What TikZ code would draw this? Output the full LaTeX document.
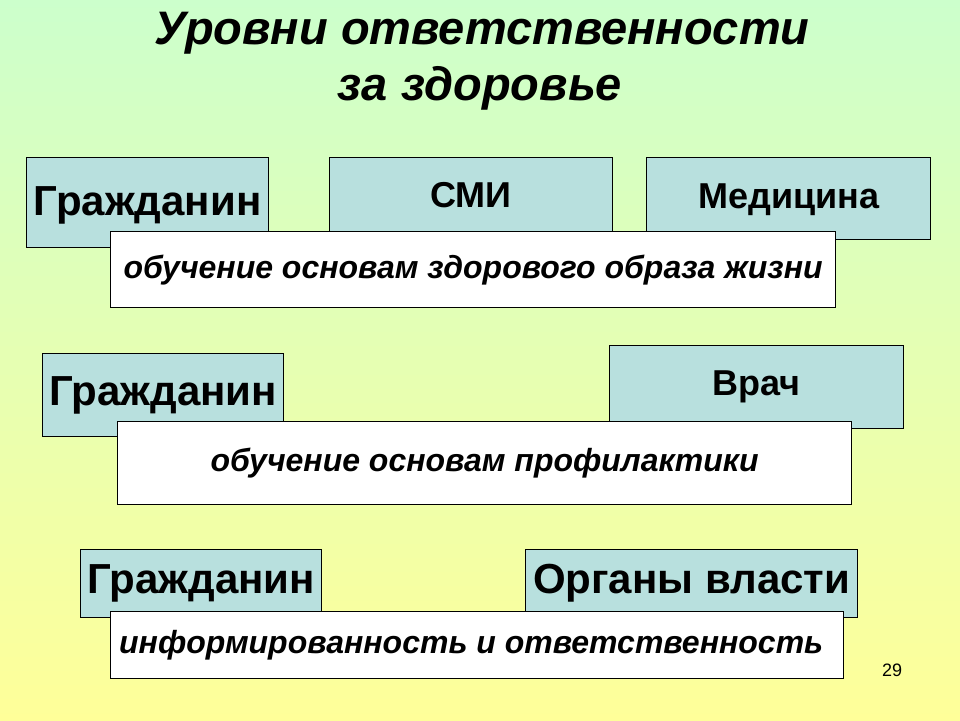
\documentclass[tikz,border=0pt]{standalone}
\usepackage{fontspec}
\setmainfont{Liberation Sans}
\definecolor{boxblue}{RGB}{184,224,222}
\definecolor{topgreen}{RGB}{204,255,204}
\definecolor{botyellow}{RGB}{255,255,153}
\newcommand{\fs}[1]{\fontsize{#1}{#1}\selectfont}
\begin{document}
\begin{tikzpicture}[x=1pt,y=-1pt,
  bluebox/.style={draw=black, line width=1.3pt, fill=boxblue, anchor=north west,
    inner sep=0pt, text=black},
  whitebox/.style={draw=black, line width=1.3pt, fill=white, anchor=north west,
    inner sep=0pt, text=black},
  bigtxt/.style={font=\bfseries\fs{42}},
  midtxt/.style={font=\bfseries\fs{36}},
  ittxt/.style={font=\bfseries\itshape\fs{32}},
  titletxt/.style={font=\bfseries\itshape\fs{47}, text=black}]
\useasboundingbox (0,0) rectangle (960,720);
\shade[top color=topgreen, bottom color=botyellow] (0,0) rectangle (960,720);

\node[titletxt] (t1) at (482,33) {Уровни ответственности};
\node[titletxt] (t2) at (480,88) {за здоровье};

% row 1
\node[bluebox, bigtxt, minimum width=242, minimum height=90, text depth=3pt] (g1) at (26,157) {Гражданин};
\node[bluebox, midtxt, minimum width=283, minimum height=74] (smi) at (329,157) {СМИ};
\node[bluebox, midtxt, minimum width=284, minimum height=82, text depth=6pt] (med) at (646,157) {Медицина};
\node[whitebox, ittxt, minimum width=725, minimum height=76] (w1) at (110,231) {обучение основам здорового образа жизни};

% row 2
\node[bluebox, bigtxt, minimum width=241, minimum height=83] (g2) at (42,353) {Гражданин};
\node[bluebox, midtxt, minimum width=294, minimum height=83] (vr) at (609,345) {Врач};
\node[whitebox, ittxt, minimum width=734, minimum height=83] (w2) at (117,421) {обучение основам профилактики};

% row 3
\node[bluebox, bigtxt, minimum width=241, minimum height=68] (g3) at (80,549) {Гражданин};
\node[bluebox, bigtxt, minimum width=332, minimum height=68] (org) at (525,549) {Органы власти};
\node[whitebox, ittxt, minimum width=733, minimum height=67] (w3) at (110,611) {\hspace*{-12pt}информированность и ответственность};

\node[font=\fs{18}] (num) at (892,670) {29};
\end{tikzpicture}
\end{document}
